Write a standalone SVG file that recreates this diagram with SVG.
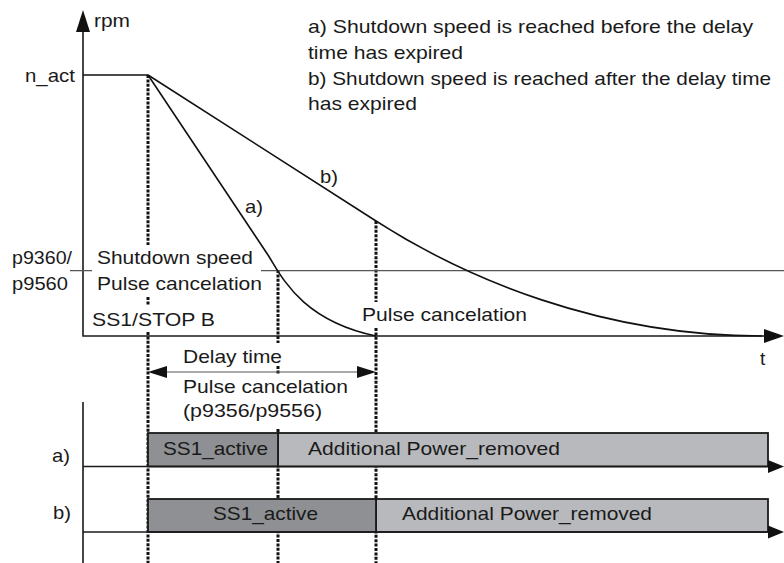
<svg xmlns="http://www.w3.org/2000/svg" width="784" height="563" viewBox="0 0 784 563">
<defs>
<style>
text{font-family:"Liberation Sans",Arial,sans-serif;font-size:19px;fill:#1a1a1a}
.ax{stroke:#1a1a1a;stroke-width:1.6;fill:none}
.thin{stroke:#555;stroke-width:1.2;fill:none}
.curve{stroke:#111;stroke-width:1.6;fill:none}
.dash{stroke:#111;stroke-width:3;stroke-dasharray:3 1.4;fill:none}
.dark{fill:#8e9093;stroke:#1a1a1a;stroke-width:1.8}
.light{fill:#b8b9bc;stroke:#1a1a1a;stroke-width:1.8}
.head{fill:#111}
</style>
</defs>
<rect width="784" height="563" fill="#fff"/>

<g id="dashed-lines">
<path class="dash" d="M148,75V245M148,297V305M148,332V563"/>
<path class="dash" d="M278,270V343M278,366V374M278,429V563"/>
<path class="dash" d="M376,221V302M376,328V563"/>
</g>

<g id="axes">
<path class="ax" d="M83,30V336H766"/>
<polygon class="head" points="83,10 76,32 90,32"/>
<polygon class="head" points="784,336 764,329 764,343"/>
<text x="94" y="27" textLength="36" lengthAdjust="spacingAndGlyphs">rpm</text>
<text x="25" y="82" textLength="50" lengthAdjust="spacingAndGlyphs">n_act</text>
<text x="760" y="365">t</text>
<path class="thin" d="M70,270.7H92M261,270.7H784"/>
<text x="12" y="264" textLength="60" lengthAdjust="spacingAndGlyphs">p9360/</text>
<text x="12" y="290" textLength="56" lengthAdjust="spacingAndGlyphs">p9560</text>
<text x="97" y="264" textLength="156" lengthAdjust="spacingAndGlyphs">Shutdown speed</text>
<text x="97" y="290" textLength="165" lengthAdjust="spacingAndGlyphs">Pulse cancelation</text>
<text x="92" y="326" textLength="123" lengthAdjust="spacingAndGlyphs">SS1/STOP B</text>
<text x="362" y="321" textLength="165" lengthAdjust="spacingAndGlyphs">Pulse cancelation</text>
</g>

<g id="curves">
<path class="curve" d="M83,75H148"/>
<path id="curve-a" class="curve" d="M148,75L268,255C281,275 300,320 376,336"/>
<path id="curve-b" class="curve" d="M148,75L376,221C465,278 600,336 762,336"/>
<text x="245" y="213" textLength="18" lengthAdjust="spacingAndGlyphs">a)</text>
<text x="320" y="183" textLength="18" lengthAdjust="spacingAndGlyphs">b)</text>
</g>

<g id="legend">
<text x="308" y="33" textLength="445" lengthAdjust="spacingAndGlyphs">a) Shutdown speed is reached before the delay</text>
<text x="308" y="59" textLength="155" lengthAdjust="spacingAndGlyphs">time has expired</text>
<text x="308" y="85" textLength="463" lengthAdjust="spacingAndGlyphs">b) Shutdown speed is reached after the delay time</text>
<text x="308" y="110" textLength="109" lengthAdjust="spacingAndGlyphs">has expired</text>
</g>

<g id="delay-time">
<path class="thin" d="M160,372H364"/>
<polygon class="head" points="148,372 167,366 167,378"/>
<polygon class="head" points="376,372 357,366 357,378"/>
<text x="183" y="363" textLength="99" lengthAdjust="spacingAndGlyphs">Delay time</text>
<text x="183" y="393" textLength="165" lengthAdjust="spacingAndGlyphs">Pulse cancelation</text>
<text x="183" y="417" textLength="139" lengthAdjust="spacingAndGlyphs">(p9356/p9556)</text>
</g>

<g id="timeline-a">
<path class="ax" d="M83,402V563"/>
<rect class="light" x="278" y="433" width="490" height="33.5"/>
<rect class="dark" x="148" y="433" width="130" height="33.5"/>
<path class="ax" d="M83,466.5H770"/>
<polygon class="head" points="784,466.5 768,460 768,473"/>
<text x="52" y="462" textLength="18" lengthAdjust="spacingAndGlyphs">a)</text>
<text x="163" y="455" textLength="105" lengthAdjust="spacingAndGlyphs">SS1_active</text>
<text x="308" y="455" textLength="252" lengthAdjust="spacingAndGlyphs">Additional Power_removed</text>
</g>

<g id="timeline-b">
<rect class="light" x="376" y="499" width="392" height="33"/>
<rect class="dark" x="148" y="499" width="228" height="33"/>
<path class="ax" d="M83,532H770"/>
<polygon class="head" points="784,532 768,525.5 768,538.5"/>
<text x="53" y="519" textLength="18" lengthAdjust="spacingAndGlyphs">b)</text>
<text x="213" y="520" textLength="105" lengthAdjust="spacingAndGlyphs">SS1_active</text>
<text x="402" y="520" textLength="250" lengthAdjust="spacingAndGlyphs">Additional Power_removed</text>
</g>
</svg>
